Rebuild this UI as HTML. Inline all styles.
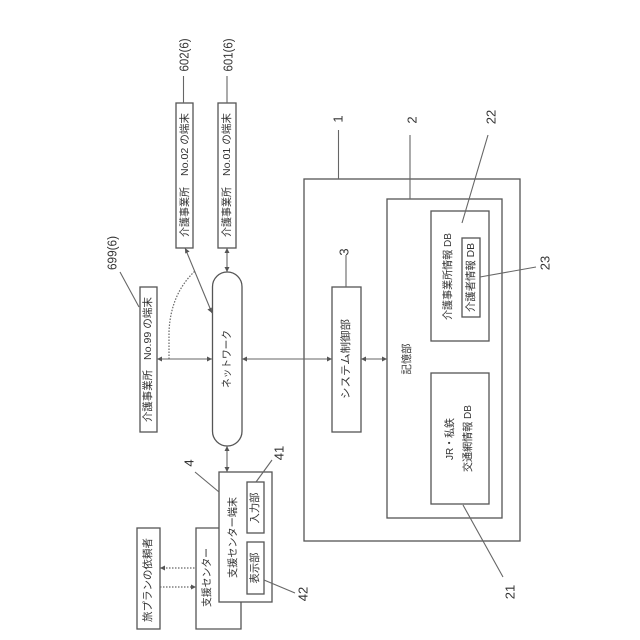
<!DOCTYPE html>
<html><head><meta charset="utf-8">
<style>
html,body{margin:0;padding:0;background:#fff;width:640px;height:640px;overflow:hidden}
svg{display:block}
text{font-family:"Liberation Sans","Noto Sans CJK JP",sans-serif;fill:#333;text-anchor:middle;dominant-baseline:central}
.b{fill:#fff;stroke:#555;stroke-width:1.3}
.l{fill:none;stroke:#666;stroke-width:1.1}
.d{fill:none;stroke:#666;stroke-width:1.2;stroke-dasharray:1.5 1.5}
.h{fill:#555}
</style></head><body>
<svg width="640" height="640" viewBox="0 0 640 640" xmlns="http://www.w3.org/2000/svg">
<!-- support center back -->
<path class="b" d="M219 528H196V629H241V602"/>
<rect class="b" x="137" y="528" width="23" height="101"/>
<!-- main -->
<rect class="b" x="304" y="179" width="216" height="362"/>
<rect class="b" x="387" y="199" width="115" height="319"/>
<rect class="b" x="431" y="211" width="58" height="130"/>
<rect class="b" x="462" y="238" width="18" height="79"/>
<rect class="b" x="431" y="373" width="58" height="131"/>
<rect class="b" x="332" y="287" width="29" height="145"/>
<rect class="b" x="176" y="103" width="17" height="145"/>
<rect class="b" x="218" y="103" width="18" height="145"/>
<rect class="b" x="140" y="287" width="17" height="145"/>
<rect class="b" x="212.500" y="272" width="29.500" height="174" rx="14.700"/>
<rect class="b" x="219" y="472" width="53" height="130"/>
<rect class="b" x="247" y="482" width="17" height="51"/>
<rect class="b" x="247" y="542" width="17" height="52"/>
<!-- connectors -->
<path class="l" d="M157 359H212M242 359H332M361 359H387M227 248V272M227 446V472M185 248L212 313"/>
<path class="d" d="M169 359V332C170 305 180 285 195 271"/>
<path class="d" d="M160 568H196M160 587H196"/>
<!-- arrowheads -->
<path class="h" d="M157 359l5-2.500v5zM212 359l-5-2.500v5zM242 359l5-2.500v5zM332 359l-5-2.500v5zM361 359l5-2.500v5zM387 359l-5-2.500v5zM227 248l-2.500 5h5zM227 272l-2.500-5h5zM227 446l-2.500 5h5zM227 472l-2.500-5h5zM185 248l.2 5.500 4.400-2zM212 313l-.2-5.500-4.400 2zM160 568l5-2.500v5zM196 587l-5-2.500v5z"/>
<!-- leaders -->
<path class="l" d="M183.500 76V103M227 76V103M120 272L139 307M338.500 130V179M410 135V199M488 135L462 223M480 277L536 267M463 505L503 577M346 255V287M195 472L219 492M256 482L272 460M264 580L295 593"/>
<!-- labels -->
<g font-size="10.500">
<text transform="translate(185,212) rotate(-90)" textLength="50" lengthAdjust="spacingAndGlyphs">介護事業所</text>
<text transform="translate(185,144.500) rotate(-90)" textLength="63" lengthAdjust="spacingAndGlyphs">No.02 の端末</text>
<text transform="translate(227,212) rotate(-90)" textLength="50" lengthAdjust="spacingAndGlyphs">介護事業所</text>
<text transform="translate(227,144.500) rotate(-90)" textLength="63" lengthAdjust="spacingAndGlyphs">No.01 の端末</text>
<text transform="translate(148,396) rotate(-90)" textLength="52" lengthAdjust="spacingAndGlyphs">介護事業所</text>
<text transform="translate(148,328.500) rotate(-90)" textLength="63" lengthAdjust="spacingAndGlyphs">No.99 の端末</text>
<text transform="translate(227,359) rotate(-90)" textLength="58" lengthAdjust="spacingAndGlyphs">ネットワーク</text>
<text transform="translate(346,359) rotate(-90)" textLength="80" lengthAdjust="spacingAndGlyphs">システム制御部</text>
<text transform="translate(407,359) rotate(-90)" textLength="31" lengthAdjust="spacingAndGlyphs">記憶部</text>
<text transform="translate(448,276.500) rotate(-90)" textLength="87" lengthAdjust="spacingAndGlyphs">介護事業所情報 DB</text>
<text transform="translate(471,277.500) rotate(-90)" textLength="69" lengthAdjust="spacingAndGlyphs">介護者情報 DB</text>
<text transform="translate(450,439) rotate(-90)" textLength="42" lengthAdjust="spacingAndGlyphs">JR・私鉄</text>
<text transform="translate(468,438.500) rotate(-90)" textLength="67" lengthAdjust="spacingAndGlyphs">交通網情報 DB</text>
<text transform="translate(233,537.500) rotate(-90)" textLength="81" lengthAdjust="spacingAndGlyphs">支援センター端末</text>
<text transform="translate(255,508) rotate(-90)" textLength="31" lengthAdjust="spacingAndGlyphs">入力部</text>
<text transform="translate(255,568) rotate(-90)" textLength="31" lengthAdjust="spacingAndGlyphs">表示部</text>
<text transform="translate(207,577.500) rotate(-90)" textLength="59" lengthAdjust="spacingAndGlyphs">支援センター</text>
<text transform="translate(148,580) rotate(-90)" textLength="84" lengthAdjust="spacingAndGlyphs">旅プランの依頼者</text>
</g>
<g font-size="13">
<text transform="translate(184,55) rotate(-90)" textLength="33" lengthAdjust="spacingAndGlyphs">602(6)</text>
<text transform="translate(228,55) rotate(-90)" textLength="33" lengthAdjust="spacingAndGlyphs">601(6)</text>
<text transform="translate(112,253) rotate(-90)" textLength="34" lengthAdjust="spacingAndGlyphs">699(6)</text>
<text transform="translate(338,119) rotate(-90)">1</text>
<text transform="translate(412,120) rotate(-90)">2</text>
<text transform="translate(491,117) rotate(-90)">22</text>
<text transform="translate(545,263) rotate(-90)">23</text>
<text transform="translate(344,252) rotate(-90)">3</text>
<text transform="translate(189,463) rotate(-90)">4</text>
<text transform="translate(279,453) rotate(-90)">41</text>
<text transform="translate(303,594) rotate(-90)">42</text>
<text transform="translate(510,592) rotate(-90)">21</text>
</g>
</svg>
</body></html>
